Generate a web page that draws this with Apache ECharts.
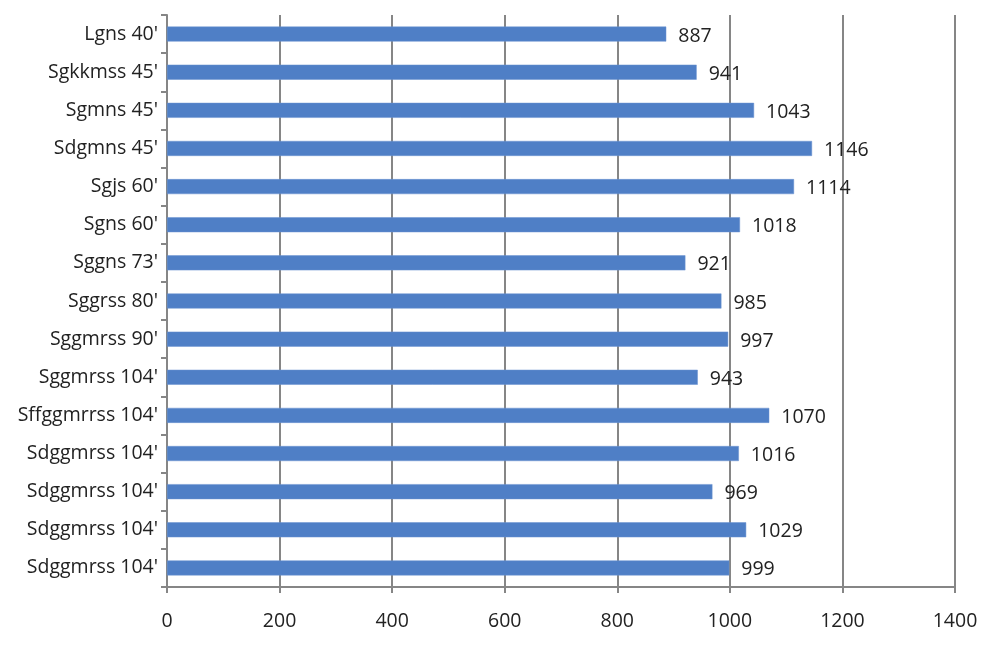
<!DOCTYPE html>
<html>
<head>
<meta charset="utf-8">
<script src="https://cdn.jsdelivr.net/npm/echarts@6/dist/echarts.min.js"></script>
<style>
  html, body { margin: 0; padding: 0; background: #fff; }
  #chart { width: 992px; height: 650px; }
</style>
</head>
<body>
<div id="chart"></div>
<script>
// categories listed top to bottom
const categories = [
  "Lgns 40'", "Sgkkmss 45'", "Sgmns 45'", "Sdgmns 45'", "Sgjs 60'",
  "Sgns 60'", "Sggns 73'", "Sggrss 80'", "Sggmrss 90'", "Sggmrss 104'",
  "Sffggmrrss 104'", "Sdggmrss 104'", "Sdggmrss 104'", "Sdggmrss 104'", "Sdggmrss 104'"
]
const values = [887, 941, 1043, 1146, 1114, 1018, 921, 985, 997, 943, 1070, 1016, 969, 1029, 999]
const xTicks = [0, 200, 400, 600, 800, 1000, 1200, 1400]

const font = '"Open Sans", "Noto Sans", sans-serif'
const chart = echarts.init(document.getElementById('chart'))

chart.setOption({
  animation: false,
  backgroundColor: '#fff',
  grid: { left: 167, right: 37, top: 15, bottom: 63, containLabel: false },
  xAxis: {
    type: 'value',
    min: xTicks[0],
    max: xTicks[xTicks.length - 1],
    interval: 200,
    axisLine: { show: true, lineStyle: { color: '#868686', width: 2 } },
    axisTick: { show: true, length: 6, lineStyle: { color: '#868686', width: 2 } },
    axisLabel: { color: '#222', fontSize: 19.5, fontFamily: font, margin: 24, formatter: (v) => String(v) },
    splitLine: { show: true, lineStyle: { color: '#868686', width: 2 } },
  },
  yAxis: {
    type: 'category',
    inverse: true,
    data: categories,
    axisLine: { show: true, lineStyle: { color: '#868686', width: 2 } },
    axisTick: { show: true, length: 6, lineStyle: { color: '#868686', width: 2 } },
    axisLabel: { color: '#222', fontSize: 19.5, fontFamily: font, margin: 9 },
    splitLine: { show: false },
  },
  series: [
    {
      type: 'bar',
      data: values,
      barWidth: 15,
      itemStyle: { color: '#4f7fc6', borderColor: '#6a93d0', borderWidth: 0.5 },
      label: {
        show: true,
        position: 'right',
        distance: 12,
        color: '#222',
        fontSize: 19.5,
        fontFamily: font,
        offset: [0, 2],
        formatter: (p) => String(p.value),
      },
    },
  ],
})
</script>
</body>
</html>
